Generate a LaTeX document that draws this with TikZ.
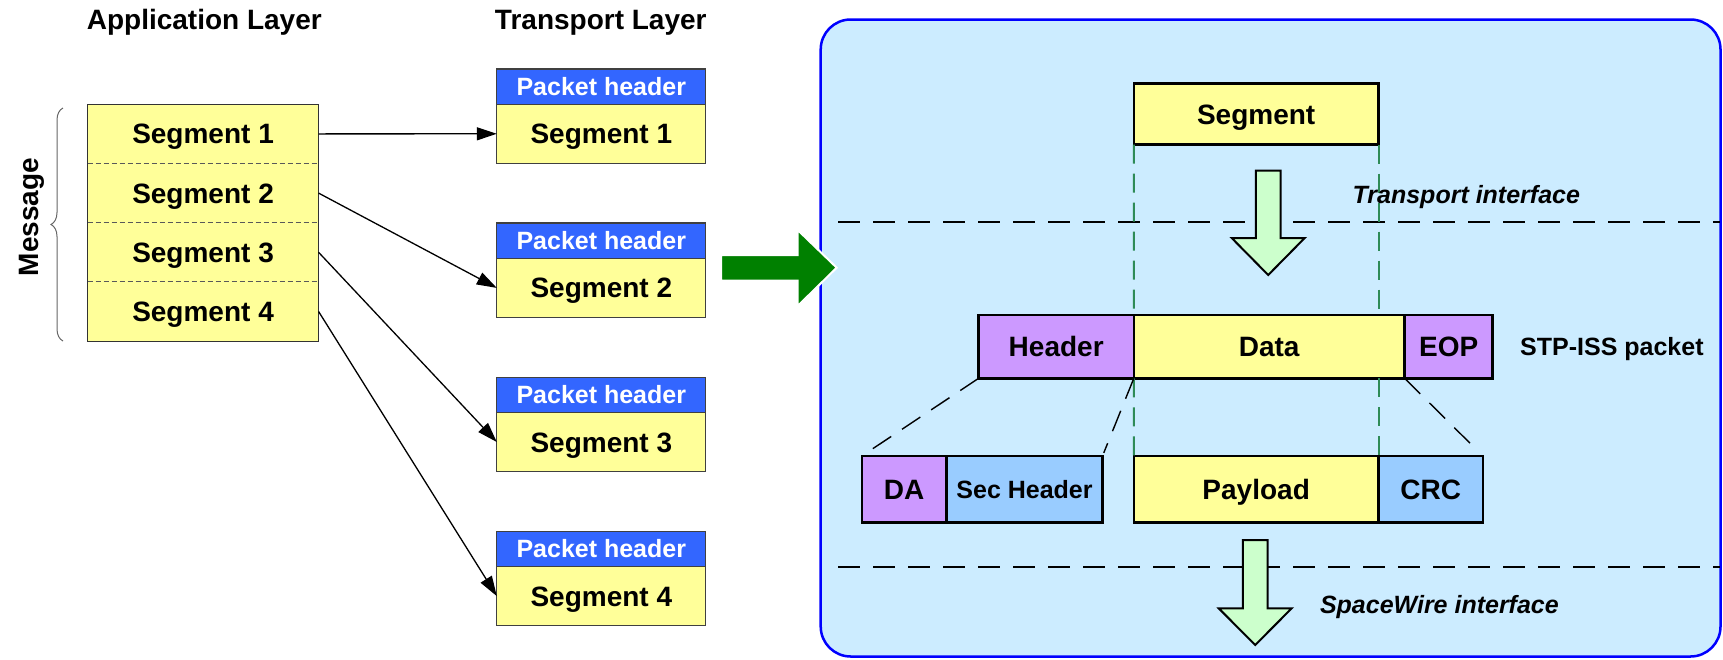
\documentclass[tikz,border=0pt]{standalone}
\usepackage{fontspec}
\setmainfont{Liberation Sans}
\usetikzlibrary{arrows.meta,calc,decorations.pathreplacing}

\definecolor{segyellow}{HTML}{FFFF99}
\definecolor{hdrblue}{HTML}{3366FF}
\definecolor{hdrpurple}{HTML}{CC99FF}
\definecolor{fieldblue}{HTML}{99CCFF}
\definecolor{panelblue}{HTML}{CCECFF}
\definecolor{flowgreen}{HTML}{CCFFCC}
\definecolor{biggreen}{HTML}{008000}
\definecolor{guidegreen}{HTML}{2E8B57}

\begin{document}
\begin{tikzpicture}[x=1pt,y=-1pt,
  big/.style={font=\fontsize{28}{30}\selectfont\bfseries, text height=20pt, text depth=0pt},
  mid/.style={font=\fontsize{25}{27}\selectfont\bfseries, text height=18pt, text depth=0pt},
  cell/.style={rectangle, anchor=north west, inner sep=0pt, outer sep=0pt},
  tcell/.style={cell, draw=black!75, line width=1.3pt},
  pk/.style={cell, draw=black, line width=2.5pt},
  divider/.style={draw=black!65, line width=1pt, dash pattern=on 5pt off 3pt},
  link/.style={line width=1.3pt, -{Triangle[length=20pt,width=13pt]}},
  sepline/.style={line width=1.6pt, dash pattern=on 22pt off 13pt},
  guide/.style={draw=guidegreen, line width=2pt, dash pattern=on 19pt off 10pt},
  fan/.style={line width=1.4pt, dash pattern=on 22pt off 13pt},
  blockdown/.style={fill=flowgreen, draw=black, line width=2pt, line join=miter},
  side/.style={font=\fontsize{25}{27}\selectfont\bfseries, anchor=base west, inner sep=0pt},
  head/.style={font=\fontsize{28}{30}\selectfont\bfseries, anchor=base, inner sep=0pt}
]
\useasboundingbox (0,0) rectangle (1723,659);

% ---------- left: application and transport layers ----------
\node[head] (applayer) at (204.3,29.5) {Application Layer};
\node[head] (translayer) at (600.8,29.5) {Transport Layer};

\foreach \i in {1,...,4}{
  \node[cell, big, fill=segyellow, minimum width=231.1pt, minimum height=59.2pt]
    (a\i) at (87.5,{104.3+59.2*(\i-1)}) {Segment \i};
}
\draw[draw=black!80, line width=1.2pt] (a1.north west) rectangle (a4.south east);
\foreach \i in {1,2,3}{
  \draw[divider] (a\i.south west) -- (a\i.south east);
}

\draw[draw=black!60, line width=1pt, decorate,
      decoration={brace, amplitude=12pt, aspect=0.5}] (63,341) -- (63,108);
\node[big, rotate=90] (msg) at (28,217) {Message};

\foreach \i in {1,...,4}{
  \node[tcell, mid, text=white, fill=hdrblue, minimum width=209pt, minimum height=35.3pt]
    (h\i) at (496.8,{69+154.1*(\i-1)}) {Packet header};
  \node[tcell, big, fill=segyellow, minimum width=209pt, minimum height=59pt]
    (t\i) at (h\i.south west) {Segment \i};
}
\foreach \i in {1,...,4}{
  \draw[link] (a\i.east) -- (t\i.west);
}

% ---------- right: STP-ISS encapsulation ----------
\draw[fill=panelblue, draw=blue, line width=2.5pt, rounded corners=30pt]
  (820.7,19.5) rectangle (1720.5,656.5);

\draw[biggreen, fill=biggreen, draw=white, line width=2pt, line join=miter]
  (721,255) -- (797.7,255) -- (797.7,230) -- (836.7,267.7)
  -- (797.7,306) -- (797.7,280.7) -- (721,280.7) -- cycle;

\draw[sepline] (838,221.7) -- (1720,221.7);
\draw[sepline] (838,566.7) -- (1720,566.7);

\node[pk, big, fill=segyellow, minimum width=244.7pt, minimum height=61.4pt]
  (seg) at (1133.8,83.3) {Segment};

\node[pk, big, fill=hdrpurple, minimum width=155.2pt, minimum height=63.3pt]
  (hdr) at (978.6,315) {Header};
\node[pk, big, fill=segyellow, minimum width=270.8pt, minimum height=63.3pt]
  (data) at (hdr.north east) {Data};
\node[pk, big, fill=hdrpurple, minimum width=88.1pt, minimum height=63.3pt]
  (eop) at (data.north east) {EOP};

\node[pk, big, fill=hdrpurple, minimum width=84.8pt, minimum height=66.7pt]
  (da) at (861.8,456) {DA};
\node[pk, mid, fill=fieldblue, minimum width=155.9pt, minimum height=66.7pt]
  (sec) at (da.north east) {Sec Header};
\node[pk, big, fill=segyellow, minimum width=244.7pt, minimum height=66.7pt]
  (pay) at (1133.8,456) {Payload};
\node[pk, big, fill=fieldblue, minimum width=104.4pt, minimum height=66.7pt]
  (crc) at (pay.north east) {CRC};

% green guides that carry the segment edges down to the payload
\coordinate (dtopr) at ($(data.north west)!(seg.south east)!(data.north east)$);
\coordinate (dbotr) at ($(data.south west)!(seg.south east)!(data.south east)$);
\draw[guide] (seg.south west) -- (data.north west);
\draw[guide] (seg.south east) -- (dtopr);
\draw[guide] (data.south west) -- (pay.north west);
\draw[guide] (dbotr) -- (crc.north west);

% header and trailer fan-out
\draw[fan] (hdr.south west) -- ($(hdr.south west)!0.94!(da.north west)$);
\draw[fan] (hdr.south east) -- ($(hdr.south east)!0.96!(sec.north east)$);
\draw[fan] (eop.south west) -- ($(eop.south west)!0.9!(crc.north east)$);

% flow arrows through the interfaces
\draw[blockdown] (1255.8,170.7) -- (1280.6,170.7) -- (1280.6,238) -- (1304.7,238)
  -- (1268.2,275) -- (1231.7,238) -- (1255.8,238) -- cycle;
\draw[blockdown] (1242.8,540) -- (1267.6,540) -- (1267.6,608.3) -- (1291.7,608.3)
  -- (1255.2,645) -- (1218.7,608.3) -- (1242.8,608.3) -- cycle;

\node[side, font=\fontsize{25}{27}\selectfont\bfseries\itshape] (tif) at (1352.4,203.3) {Transport interface};
\node[side] (stp) at (1520,355) {STP-ISS packet};
\node[side, font=\fontsize{25}{27}\selectfont\bfseries\itshape] (swif) at (1319.8,613.3) {SpaceWire interface};
\end{tikzpicture}
\end{document}
